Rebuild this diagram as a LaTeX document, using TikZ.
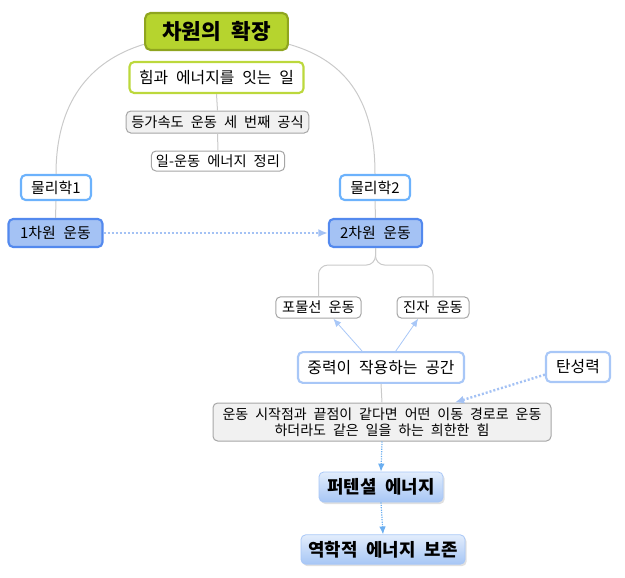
\documentclass[tikz,border=0pt]{standalone}
\usepackage{fontspec}
\setmainfont{Noto Sans CJK KR}[WordSpace=2.2]
\usetikzlibrary{arrows.meta,shadows}
\definecolor{limefill}{HTML}{B6D42E}
\definecolor{limeedge}{HTML}{8FA51F}
\definecolor{limeline}{HTML}{BCD83C}
\definecolor{skyedge}{HTML}{6CB2FC}
\definecolor{bluefill}{HTML}{A4C2F4}
\definecolor{blueedge}{HTML}{5389EE}
\definecolor{paleedge}{HTML}{A8C7F7}
\definecolor{greyfill}{HTML}{F1F1F1}
\definecolor{greyedge}{HTML}{A6A6A6}
\definecolor{linkgrey}{HTML}{CACACA}
\definecolor{dotblue}{HTML}{6AAEF0}
\definecolor{gradtop}{HTML}{E2EDFC}
\definecolor{gradbot}{HTML}{A7C6F5}
\begin{document}
\begin{tikzpicture}[x=0.75pt,y=-0.75pt,
  box/.style={rounded corners=3.5pt,inner sep=0pt,align=center,font=\fontsize{11.2}{13}\selectfont},
  greybox/.style={box,fill=greyfill,draw=greyedge,line width=0.75pt},
  whitebox/.style={box,fill=white,draw=greyedge,line width=0.75pt},
  skybox/.style={box,fill=white,draw=skyedge,line width=1.6pt},
  bluebox/.style={box,fill=bluefill,draw=blueedge,line width=1.6pt},
  palebox/.style={box,fill=white,draw=paleedge,line width=1.6pt},
  gradbox/.style={box,draw=paleedge,line width=0.6pt,top color=gradtop,bottom color=gradbot,
    font=\fontsize{13.4}{15}\selectfont\bfseries,
    drop shadow={shadow xshift=1.2pt,shadow yshift=-1.5pt,fill=black!35,opacity=0.35}},
  link/.style={linkgrey,line width=0.75pt},
  thinarrow/.style={paleedge,line width=0.6pt,-{Latex[length=6pt,width=5pt]}},
  dotarrow/.style={bluefill,line width=1.8pt,dash pattern=on 1.5pt off 1.5pt,-{Latex[length=7pt,width=6pt]}},
  finedots/.style={dotblue,line width=0.9pt,dash pattern=on 0.9pt off 0.9pt,-{Latex[length=6pt,width=5pt]}}]
  \useasboundingbox (0,0) rectangle (625,578);
  % top of the map
  \node[box,fill=limefill,draw=limeedge,line width=1.6pt,rounded corners=4pt,minimum width=107pt,minimum height=27.7pt,
    font=\fontsize{16}{18}\selectfont\bfseries] (title) at (216.5,31.5) {차원의 확장};
  \node[box,fill=white,draw=limeline,line width=1.6pt,minimum width=130.5pt,minimum height=23.3pt,
    font=\fontsize{11.9}{13.5}\selectfont] (bridge) at (216.5,77.5) {힘과 에너지를 잇는 일};
  \node[greybox,minimum width=137pt,minimum height=16.5pt,font=\fontsize{10.7}{12}\selectfont] (accel) at (217.5,122) {등가속도 운동 세 번째 공식};
  \node[whitebox,minimum width=100pt,minimum height=15pt,font=\fontsize{10.7}{12}\selectfont] (theorem) at (218,161) {일-운동 에너지 정리};
  \draw[link] (bridge.south) -- (accel.north);
  \draw[link] (accel.south) -- (theorem.north);
  % two branches
  \node[skybox,minimum width=52.5pt,minimum height=18.75pt] (phys1) at (56,187.5) {물리학1};
  \node[skybox,minimum width=52.5pt,minimum height=18.75pt] (phys2) at (375,187.5) {물리학2};
  \node[bluebox,minimum width=70.5pt,minimum height=21pt] (dim1) at (55.5,233) {1차원 운동};
  \node[bluebox,minimum width=70pt,minimum height=21pt] (dim2) at (375.5,233) {2차원 운동};
  \draw[link] (title.190) .. controls +(-56,17) and +(0,-70) .. (phys1.north);
  \draw[link] (title.350) .. controls +(60,17) and +(0,-70) .. (phys2.north);
  \draw[link] (phys1.south) -- (dim1.north);
  \draw[link] (phys2.south) -- (dim2.north);
  \draw[dotarrow] (dim1.east) -- (dim2.west);
  % motions in two dimensions
  \node[whitebox,minimum width=64pt,minimum height=16pt,font=\fontsize{10.7}{12}\selectfont] (para) at (318.5,307.5) {포물선 운동};
  \node[whitebox,minimum width=54pt,minimum height=16pt,font=\fontsize{10.7}{12}\selectfont] (pend) at (433,307.5) {진자 운동};
  \draw[link,rounded corners=7pt] (dim2.south) -- ++(0,17) -| (para.north);
  \draw[link,rounded corners=7pt] (dim2.south) -- ++(0,17) -| (pend.north);
  \node[palebox,minimum width=124.5pt,minimum height=23pt,font=\fontsize{11.9}{13.5}\selectfont] (grav) at (381,367.5) {중력이 작용하는 공간};
  \node[palebox,minimum width=48pt,minimum height=22.5pt,font=\fontsize{11.9}{13.5}\selectfont] (elastic) at (578,367) {탄성력};
  \draw[thinarrow] (grav.139) -- (para.-37);
  \draw[thinarrow] (grav.48) -- (pend.217);
  % conservative force
  \node[greybox,minimum width=253.5pt,minimum height=28.5pt,font=\fontsize{10.5}{12.2}\selectfont] (work) at (382,422)
    {운동 시작점과 끝점이 같다면 어떤 이동 경로로 운동\\하더라도 같은 일을 하는 희한한 힘};
  \draw[link] (grav.south) -- (work.north);
  \draw[dotarrow] (elastic.193) -- (work.15);
  \node[gradbox,minimum width=93pt,minimum height=22.5pt] (pot) at (381,487) {퍼텐셜 에너지};
  \node[gradbox,minimum width=123pt,minimum height=22pt] (mech) at (383,549.5) {역학적 에너지 보존};
  \draw[finedots] (work.south) -- (pot.north);
  \draw[finedots] (pot.south) -- (mech.north);
\end{tikzpicture}
\end{document}
